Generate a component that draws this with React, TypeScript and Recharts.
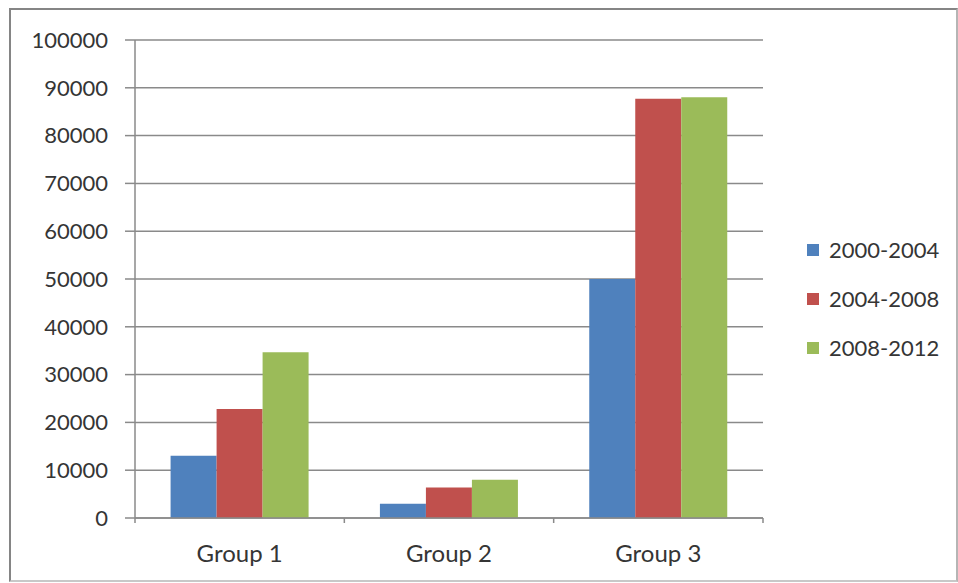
import React from 'react';
import { BarChart, Bar, XAxis, YAxis, CartesianGrid, Legend } from 'recharts';

const categories = ['Group 1', 'Group 2', 'Group 3'];
const series2000_2004 = [13000, 3000, 50000];
const series2004_2008 = [22800, 6400, 87700];
const series2008_2012 = [34700, 8000, 88000];
const yTicks = [0, 10000, 20000, 30000, 40000, 50000, 60000, 70000, 80000, 90000, 100000];

const seriesInfo = [
  { key: 's1', name: '2000-2004', color: '#4F81BD' },
  { key: 's2', name: '2004-2008', color: '#C0504D' },
  { key: 's3', name: '2008-2012', color: '#9BBB59' },
];

const data = categories.map((c, i) => ({
  name: c,
  s1: series2000_2004[i],
  s2: series2004_2008[i],
  s3: series2008_2012[i],
}));

const FONT = 'Lato, "Open Sans", sans-serif';
const TEXT = '#353535';
const AXIS = '#8a8a8a';
const TICK_SIZE = 5;
const TICK_MARGIN = 10;

const CategoryTick = (props: any) => {
  const { x, y, payload, index } = props;
  const half = payload?.offset || 104.7;
  const top = y - TICK_MARGIN - TICK_SIZE;
  const bottom = y - TICK_MARGIN;
  return (
    <g>
      <line x1={x - half} x2={x - half} y1={top} y2={bottom} stroke={AXIS} strokeWidth={1.5} />
      {index === categories.length - 1 && (
        <line x1={x + half} x2={x + half} y1={top} y2={bottom} stroke={AXIS} strokeWidth={1.5} />
      )}
      <text x={x} y={y + 29} textAnchor="middle" fill={TEXT} fontSize={24} fontFamily={FONT}>
        {payload.value}
      </text>
    </g>
  );
};

const LegendBox = () => (
  <div style={{ fontFamily: FONT, fontSize: 22, color: TEXT }}>
    {seriesInfo.map(s => (
      <div key={s.key} style={{ display: 'flex', alignItems: 'center', height: 49 }}>
        <span style={{ width: 12, height: 12, background: s.color, marginRight: 10, display: 'inline-block' }} />
        <span>{s.name}</span>
      </div>
    ))}
  </div>
);

export default function App() {
  return (
    <div style={{ position: 'absolute', left: 0, top: 0, width: 958, height: 583, background: '#fff' }}>
      <div
        style={{
          position: 'absolute', left: 9, top: 8, width: 945, height: 570,
          borderTop: '2px solid #858585', borderLeft: '2px solid #858585',
          borderRight: '2px solid #b5b5b5', borderBottom: '2px solid #c8c8c8',
        }}
      />
      <BarChart
        width={958}
        height={583}
        data={data}
        margin={{ top: 40, right: 45, bottom: 0, left: 0 }}
        barCategoryGap="17%"
        barGap={0}
        style={{ position: 'absolute', left: 0, top: 0 }}
      >
        <CartesianGrid vertical={false} stroke={AXIS} strokeWidth={1.5} />
        <XAxis
          dataKey="name"
          height={65}
          stroke={AXIS}
          strokeWidth={1.5}
          tickLine={false}
          tickSize={TICK_SIZE}
          tickMargin={TICK_MARGIN}
          tick={<CategoryTick />}
          interval={0}
        />
        <YAxis
          width={135}
          domain={[0, 100000]}
          ticks={yTicks}
          interval={0}
          stroke={AXIS}
          strokeWidth={1.5}
          tickSize={10}
          tickMargin={17}
          tick={{ fill: TEXT, fontSize: 22, fontFamily: FONT }}
        />
        <Legend
          layout="vertical"
          align="right"
          verticalAlign="middle"
          content={<LegendBox />}
          wrapperStyle={{ width: 150, left: 807, top: 225 }}
        />
        {seriesInfo.map(s => (
          <Bar key={s.key} dataKey={s.key} name={s.name} fill={s.color} isAnimationActive={false} />
        ))}
      </BarChart>
    </div>
  );
}
